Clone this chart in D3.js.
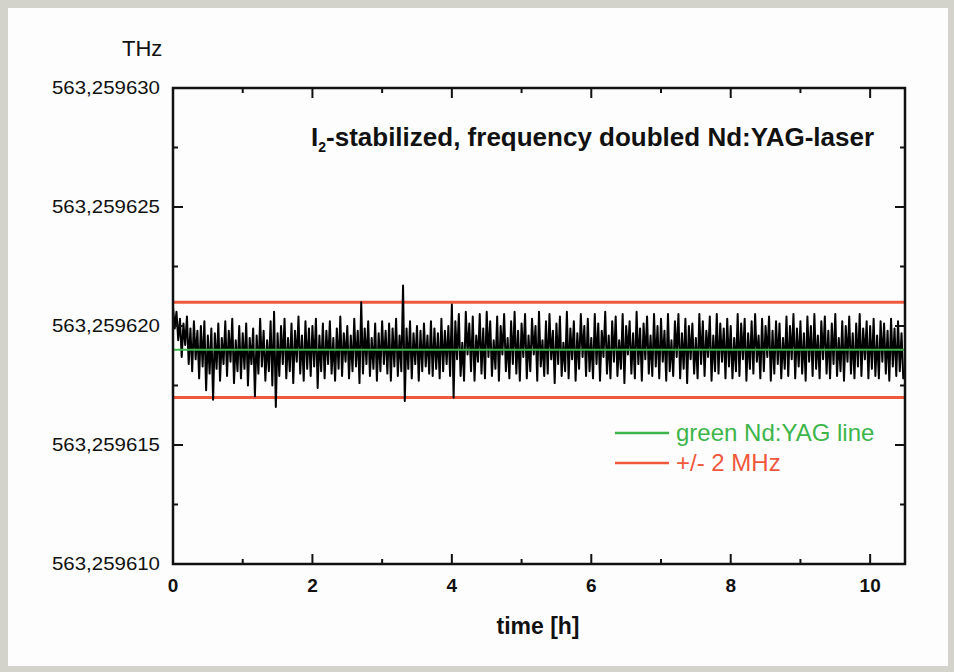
<!DOCTYPE html>
<html lang="en">
<head>
<meta charset="UTF-8">
<title>I2-stabilized Nd:YAG frequency</title>
<style>
  body { margin: 0; background: #d3d3cb; }
  svg  { display: block; }
  text { font-family: "Liberation Sans", Arial, sans-serif; fill: #111; }
</style>
</head>
<body>
<svg id="chart" width="954" height="672"></svg>
<script src="https://d3js.org/d3.v7.min.js"></script>
<script>
/* ---------------- Data ---------------- */
// frequency offset in MHz relative to 563,259600 THz
const yTicks      = [10, 15, 20, 25, 30];
const yTickLabels = ['563,259610', '563,259615', '563,259620', '563,259625', '563,259630'];
const xTicks      = [0, 2, 4, 6, 8, 10];
const xMinor      = [1, 3, 5, 7, 9];
const yMinor      = [12.5, 17.5, 22.5, 27.5];
const lineCenter  = 19;       // green Nd:YAG line
const bandHalf    = 2;        // +/- 2 MHz
const sampleStep  = 0.025;    // h between samples

// measured deviation from line centre (MHz), one value per sample
const deviation = [
  // 0 - 1 h
  1.8, 0.9, 1.6, 0.4, 1.3, -0.3, 1.1, 0.2, 1.4, -0.6, 0.9, -0.9, 1.2, -0.4, 0.8, -1.2, 1.0, -0.7, 1.2, -1.7,
  0.6, -1.0, 0.9, -2.1, 0.7, -0.8, 1.1, -1.3, 0.5, -0.6, 1.2, -1.1, 0.8, -0.5, 1.3, -1.4, 0.4, -0.9, 1.0, -1.2,
  // 1 - 2 h
  0.7, -0.8, 1.1, -1.5, 0.5, -0.6, 0.9, -1.95, 0.6, -1.0, 1.3, -0.7, 0.8, -1.3, 0.4, -0.9, 1.2, -1.5, 1.6, -2.4,
  0.7, -1.1, 1.0, -0.6, 1.3, -1.2, 0.5, -0.9, 1.1, -1.4, 0.8, -0.5, 1.4, -1.0, 0.6, -1.3, 1.2, -0.8, 0.9, -1.1,
  // 2 - 3 h
  1.0, -0.7, 1.3, -1.6, 0.6, -0.9, 1.1, -1.2, 0.8, -0.6, 1.2, -1.0, 0.5, -1.3, 0.9, -0.8, 1.4, -1.1, 0.7, -0.5,
  1.0, -1.2, 0.6, -0.9, 1.3, -0.7, 0.8, -1.4, 2.0, -1.0, 0.9, -0.6, 1.2, -1.1, 0.5, -0.8, 1.1, -1.3, 0.7, -0.9,
  // 3 - 4 h
  1.2, -0.6, 0.8, -1.0, 1.1, -1.3, 0.9, -0.7, 1.3, -1.1, 0.6, -0.9, 2.7, -2.15, 0.9, -0.8, 1.2, -1.2, 0.7, -0.6,
  1.0, -1.3, 0.8, -0.9, 1.1, -0.7, 0.6, -1.0, 1.2, -1.1, 0.9, -0.8, 0.7, -1.2, 1.3, -0.9, 0.8, -0.6, 1.0, -1.1,
  // 4 - 5 h
  1.9, -2.0, 1.2, -0.4, 1.5, -1.1, 0.3, -1.3, 1.6, -0.2, 1.1, -0.9, 1.4, -1.3, 0.6, -0.5, 1.5, -1.0, 0.9, -1.2,
  1.6, -0.3, 1.2, -1.1, 0.4, -0.8, 1.4, -1.3, 1.0, -0.2, 1.5, -0.9, 0.5, -1.2, 1.2, -0.6, 1.6, -1.0, 0.8, -1.3,
  // 5 - 6 h
  1.1, -0.3, 1.5, -1.2, 0.6, -0.9, 1.3, -0.2, 1.0, -1.3, 1.6, -0.7, 0.4, -1.1, 1.2, -1.0, 1.5, -0.4, 0.8, -1.4,
  1.1, -0.6, 1.4, -1.1, 0.3, -0.9, 1.6, -1.2, 0.9, -0.4, 1.2, -1.3, 0.7, -0.8, 1.5, -0.3, 1.0, -1.1, 1.3, -0.9,
  // 6 - 7 h
  0.5, -1.2, 1.5, -0.6, 1.1, -1.3, 0.8, -0.3, 1.6, -1.0, 0.6, -1.2, 1.2, -0.5, 1.4, -1.1, 0.4, -0.8, 1.5, -1.4,
  1.0, -0.2, 1.2, -1.0, 0.7, -1.2, 1.6, -0.6, 0.9, -1.3, 1.1, -0.4, 1.4, -1.0, 0.6, -1.1, 1.5, -0.7, 1.0, -1.2,
  // 7 - 8 h
  1.3, -0.5, 0.8, -1.3, 1.5, -0.9, 0.4, -1.1, 1.2, -0.3, 1.5, -1.2, 0.7, -0.8, 1.3, -1.4, 1.0, -0.4, 1.1, -1.0,
  0.5, -1.2, 1.5, -0.6, 1.2, -1.1, 0.8, -0.3, 1.4, -1.3, 0.6, -0.9, 1.5, -1.0, 1.1, -0.5, 0.9, -1.2, 1.3, -0.7,
  // 8 - 9 h
  1.0, -1.2, 0.5, -0.9, 1.5, -1.1, 1.1, -0.4, 1.3, -1.3, 0.7, -0.8, 1.2, -1.0, 1.5, -0.5, 0.6, -1.2, 1.3, -0.9,
  1.0, -0.3, 1.4, -1.3, 0.8, -1.0, 1.2, -0.6, 1.1, -1.2, 0.5, -0.8, 1.4, -1.1, 1.0, -0.4, 1.5, -1.2, 0.9, -0.7,
  // 9 - 10 h
  1.2, -1.0, 0.7, -1.3, 1.4, -0.5, 1.0, -1.1, 1.5, -0.8, 0.6, -1.2, 1.2, -0.4, 1.4, -1.0, 0.8, -1.2, 1.1, -0.6,
  1.5, -1.1, 0.5, -0.9, 1.2, -1.3, 1.0, -0.5, 1.4, -1.0, 0.7, -1.2, 1.1, -0.7, 1.5, -1.1, 0.9, -0.4, 1.2, -1.2,
  // 10 - 10.5 h
  1.0, -0.8, 1.3, -1.1, 0.6, -1.2, 1.2, -0.5, 1.1, -1.0, 0.8, -1.3, 1.3, -0.7, 0.9, -1.1, 1.2, -0.9, 0.7, -1.2, -1.0
];

const legendItems = [
  { label: 'green Nd:YAG line', color: '#3db54a' },
  { label: '+/- 2 MHz',         color: '#f0583c' }
];

/* ---------------- Layout ---------------- */
const svg = d3.select('#chart');
const plot = { left: 173, right: 905, top: 88, bottom: 564 };

svg.append('rect')
  .attr('x', 8).attr('y', 8).attr('width', 940).attr('height', 658)
  .attr('fill', '#fdfdfd');

const x = d3.scaleLinear().domain([0, 10.5]).range([plot.left, plot.right]);
const y = d3.scaleLinear().domain([10, 30]).range([plot.bottom, plot.top]);

/* ---------------- Reference band ---------------- */
[lineCenter + bandHalf, lineCenter - bandHalf].forEach(v => {
  svg.append('line')
    .attr('x1', x(0)).attr('x2', x(10.5))
    .attr('y1', y(v)).attr('y2', y(v))
    .attr('stroke', legendItems[1].color).attr('stroke-width', 3);
});

/* ---------------- Data line ---------------- */
const pts = deviation.map((d, i) => [i * sampleStep, lineCenter + d]);
svg.append('path')
  .datum(pts)
  .attr('fill', 'none')
  .attr('stroke', '#000')
  .attr('stroke-width', 2)
  .attr('stroke-linejoin', 'round')
  .attr('d', d3.line().x(d => x(d[0])).y(d => y(d[1])));

// green centre line sits on top of the trace
svg.append('line')
  .attr('x1', x(0)).attr('x2', x(10.5))
  .attr('y1', y(lineCenter)).attr('y2', y(lineCenter))
  .attr('stroke', legendItems[0].color).attr('stroke-width', 2);

/* ---------------- Axes (ticks inward, mirrored) ---------------- */
const axes = svg.append('g').attr('stroke', '#111');
const tk = (x1, y1, x2, y2, w) => axes.append('line')
  .attr('x1', x1).attr('y1', y1).attr('x2', x2).attr('y2', y2).attr('stroke-width', w);

xTicks.forEach(v => {
  tk(x(v), plot.bottom, x(v), plot.bottom - 10, 2);
  tk(x(v), plot.top, x(v), plot.top + 10, 2);
});
xMinor.forEach(v => {
  tk(x(v), plot.bottom, x(v), plot.bottom - 5, 2);
  tk(x(v), plot.top, x(v), plot.top + 5, 2);
});
yTicks.forEach(v => {
  tk(plot.left, y(v), plot.left + 10, y(v), 2);
  tk(plot.right, y(v), plot.right - 10, y(v), 2);
});
yMinor.forEach(v => {
  tk(plot.left, y(v), plot.left + 5, y(v), 2);
  tk(plot.right, y(v), plot.right - 5, y(v), 2);
});

axes.append('rect')
  .attr('x', plot.left).attr('y', plot.top)
  .attr('width', plot.right - plot.left).attr('height', plot.bottom - plot.top)
  .attr('fill', 'none').attr('stroke-width', 2.5);

/* ---------------- Tick labels ---------------- */
svg.append('g').selectAll('text')
  .data(yTicks)
  .join('text')
    .attr('x', 160).attr('y', d => y(d) + 6)
    .attr('text-anchor', 'end')
    .attr('font-size', 19)
    .attr('textLength', 108).attr('lengthAdjust', 'spacingAndGlyphs')
    .text((d, i) => yTickLabels[i]);

svg.append('g').selectAll('text')
  .data(xTicks)
  .join('text')
    .attr('x', d => x(d)).attr('y', 592)
    .attr('text-anchor', 'middle')
    .attr('font-size', 19).attr('font-weight', 'bold')
    .text(d => d);

/* ---------------- Titles ---------------- */
svg.append('text')
  .attr('x', 122).attr('y', 56)
  .attr('font-size', 22)
  .text('THz');

svg.append('text')
  .attr('x', 538).attr('y', 634)
  .attr('text-anchor', 'middle')
  .attr('font-size', 23).attr('font-weight', 'bold')
  .text('time [h]');

const title = svg.append('text')
  .attr('x', 311).attr('y', 146)
  .attr('font-size', 26).attr('font-weight', 'bold');
title.append('tspan').text('I');
title.append('tspan').attr('dy', 6).attr('font-size', 14).text('2');
title.append('tspan').attr('dy', -6).text('-stabilized, frequency doubled Nd:YAG-laser');

/* ---------------- Legend ---------------- */
const legend = svg.append('g').selectAll('g')
  .data(legendItems)
  .join('g')
    .attr('transform', (d, i) => `translate(615, ${433 + i * 30})`);
legend.append('line')
  .attr('x1', 0).attr('x2', 54)
  .attr('stroke', d => d.color).attr('stroke-width', 2.5);
legend.append('text')
  .attr('x', 61).attr('y', 8)
  .attr('font-size', 24)
  .style('fill', d => d.color)
  .text(d => d.label);
</script>
</body>
</html>
